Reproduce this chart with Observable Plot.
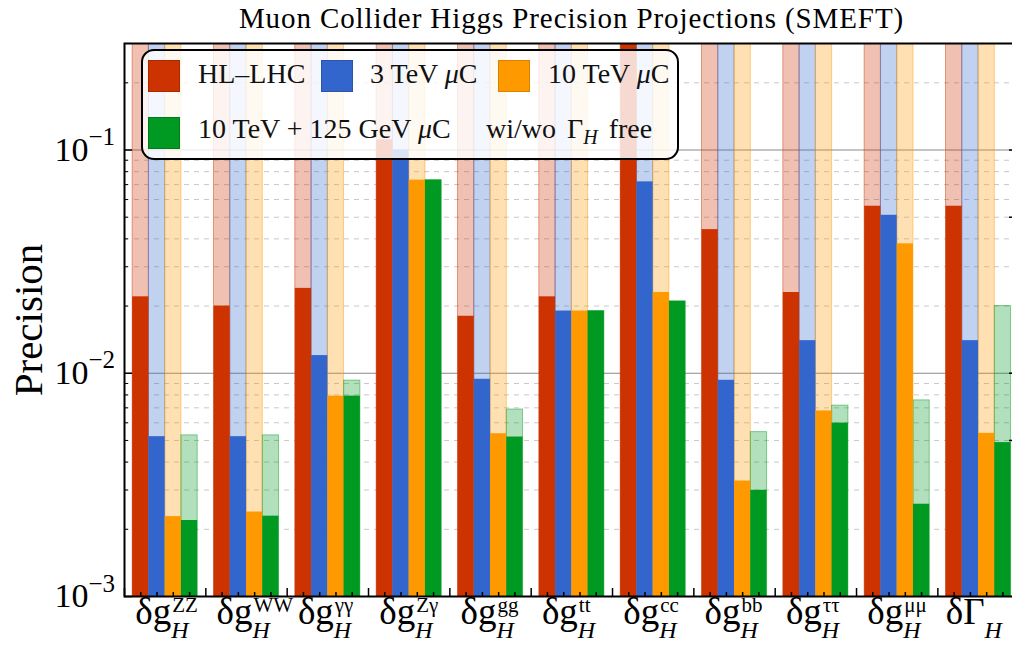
<!DOCTYPE html>
<html><head><meta charset="utf-8">
<script src="https://cdn.jsdelivr.net/npm/d3@7"></script>
<script src="https://cdn.jsdelivr.net/npm/@observablehq/plot@0.6"></script>
<style>
body{margin:0;background:#fff;font-family:"Liberation Serif",serif;}
#wrap{position:relative;width:1012px;height:653px;overflow:hidden;background:#fff;}
#title{position:absolute;left:124px;width:895px;top:0;height:36px;line-height:36px;text-align:center;font-size:29px;letter-spacing:0.9px;color:#000;}
#chart{position:absolute;top:36px;left:0;}
#legend{position:absolute;left:141px;top:49px;width:534px;height:107px;border:2px solid #000;border-radius:13px;background:rgba(255,255,255,0.82);}
.sw{position:absolute;width:30px;height:30px;border:1px solid;}
.lt{position:absolute;font-size:28px;line-height:28px;white-space:nowrap;color:#111;}
.lt sub{font-size:20px;vertical-align:-6px;line-height:0;}
</style></head><body>
<div id="wrap">
<div id="title">Muon Collider Higgs Precision Projections (SMEFT)</div>
<div id="chart"></div>
<div id="legend"></div>
</div>
<script>
// ---- data ----
const categories = ["ZZ","WW","γγ","Zγ","gg","tt","cc","bb","ττ","μμ","ΓH"];
const labelMain = ["δg","δg","δg","δg","δg","δg","δg","δg","δg","δg","δΓ"];
const labelSup  = ["ZZ","WW","γγ","Zγ","gg","tt","cc","bb","ττ","μμ",""];
const labelSub  = ["H","H","H","H","H","H","H","H","H","H","H"];
const seriesNames = ["HL–LHC","3 TeV μC","10 TeV μC","10 TeV + 125 GeV μC"];
// Γ_H fixed (solid bars)
const hlLHC  = [0.022, 0.020, 0.024, 0.111, 0.018, 0.022, 0.35, 0.044, 0.023, 0.056, 0.056];
const mu3    = [0.0052, 0.0052, 0.0120, 0.100, 0.0094, 0.019, 0.072, 0.0093, 0.0140, 0.051, 0.0140];
const mu10   = [0.00228, 0.00239, 0.0079, 0.0733, 0.00536, 0.019, 0.023, 0.00329, 0.00678, 0.038, 0.00538];
const mu10h  = [0.00219, 0.00229, 0.0079, 0.0733, 0.00518, 0.019, 0.021, 0.00299, 0.00598, 0.00259, 0.00489];
// Γ_H free (faded bars); 1 = beyond the top of the plot
const hlLHCfree = [1,1,1,1,1,1,1,1,1,1,1];
const mu3free   = [1,1,1,1,1,1,1,1,1,1,1];
const mu10free  = [1,1,1,1,1,1,1,1,1,1,1];
const mu10hfree = [0.00527, 0.00527, 0.00927, 0.0733, 0.00688, 0.019, 0.021, 0.00545, 0.00716, 0.00756, 0.0200];
const colors = ["#CC3300","#3366CC","#FF9900","#009922"];
const edgeColors = ["#A82A00","#2A55AA","#D98200","#007A1C"];
const yDecades = [0.001, 0.01, 0.1];
const yDecadeLabels = ["−3","−2","−1"];
const yMinor = [0.002,0.003,0.004,0.005,0.006,0.007,0.008,0.009,0.02,0.03,0.04,0.05,0.06,0.07,0.08,0.09,0.2,0.3];
const yRightTicks = [0.005, 0.01, 0.05, 0.1];
const yMajorGrid = [0.01, 0.1];

// ---- layout ----
const W = 1012, H = 617, mL = 124, mT = 7, mB = 57, mR = -1;
const xR = [124, 1018.7];
const bw = (xR[1]-xR[0]) / categories.length;
const frameW = W - mR - mL, frameH = H - mT - mB;

const solid = [hlLHC, mu3, mu10, mu10h];
const faded = [hlLHCfree, mu3free, mu10free, mu10hfree];
const marks = [];

// grid
marks.push(Plot.ruleY(yMinor, {stroke:"#c8c8c8", strokeWidth:1, strokeDasharray:"5,5"}));
marks.push(Plot.ruleY(yMajorGrid, {stroke:"#8a8a8a", strokeWidth:1}));

// faded bars (Γ_H free)
faded.forEach((vals, j) => {
  marks.push(Plot.barY(categories.map((c,i)=>({cat:c, v:vals[i]})), {
    x:"cat", y1:0.001, y2:"v", fill:colors[j], fillOpacity:0.3,
    stroke:colors[j], strokeOpacity:0.45, strokeWidth:1,
    insetLeft: bw*(0.1+0.2*j), insetRight: bw*(0.7-0.2*j), clip:true
  }));
});
// solid bars (Γ_H fixed)
solid.forEach((vals, j) => {
  marks.push(Plot.barY(categories.map((c,i)=>({cat:c, v:vals[i]})), {
    x:"cat", y1:0.001, y2:"v", fill:colors[j],
    insetLeft: bw*(0.1+0.2*j), insetRight: bw*(0.7-0.2*j), clip:true
  }));
});

// frame
marks.push(Plot.frame({stroke:"#000", strokeWidth:2}));
// x ticks: bar centres (minor) and group boundaries (major)
[-0.3,-0.1,0.1,0.3].forEach(o => marks.push(Plot.ruleX(categories, {x:d=>d, dx:bw*o, stroke:"#000", strokeWidth:1.5, insetTop:frameH-4})));
marks.push(Plot.ruleX(categories, {x:d=>d, dx:-bw/2, stroke:"#000", strokeWidth:1.5, insetTop:frameH-8}));
// y ticks
marks.push(Plot.ruleY(yDecades, {stroke:"#000", strokeWidth:1.5, insetRight:frameW-8}));
marks.push(Plot.ruleY(yMinor, {stroke:"#000", strokeWidth:1, insetRight:frameW-4}));
marks.push(Plot.ruleY(yRightTicks, {stroke:"#000", strokeWidth:1.5, insetLeft:frameW-4}));

// y tick labels
marks.push(Plot.text(yDecades, {y:d=>d, text:()=>"10", frameAnchor:"left", textAnchor:"end", dx:-36, fontSize:34}));
marks.push(Plot.text(yDecades, {y:d=>d, text:(d,i)=>yDecadeLabels[i], frameAnchor:"left", textAnchor:"start", dx:-36, dy:-13, fontSize:25}));
// y label
marks.push(Plot.text(["Precision"], {text:d=>d, frameAnchor:"left", textAnchor:"middle", dx:-96, rotate:-90, fontSize:41}));
// x labels
marks.push(Plot.text(categories, {x:d=>d, text:(d,i)=>labelMain[i], frameAnchor:"bottom", textAnchor:"end", dx:6, dy:27, fontSize:37}));
marks.push(Plot.text(categories, {x:d=>d, text:(d,i)=>labelSup[i], frameAnchor:"bottom", textAnchor:"start", dx:7, dy:15, fontSize:21}));
marks.push(Plot.text(categories, {x:d=>d, text:(d,i)=>labelSub[i], frameAnchor:"bottom", textAnchor:"start", dx:6, dy:41, fontSize:24, fontStyle:"italic"}));

const chart = Plot.plot({
  width:W, height:H, marginLeft:mL, marginRight:mR, marginTop:mT, marginBottom:mB,
  style:{fontFamily:"'Liberation Serif', serif", background:"transparent", color:"#000", overflow:"visible"},
  x:{type:"band", domain:categories, range:xR, padding:0, round:false, axis:null},
  y:{type:"log", domain:[0.001, 0.3], axis:null},
  marks
});
document.getElementById("chart").appendChild(chart);

// legend
const leg = document.getElementById("legend");
const swPos = [[5,9],[178,9],[355,9],[5,66]];
const txtPos = [[55,9],[227,9],[405,9],[55,64]];
const txtHtml = ["HL–LHC","3 TeV <i>μ</i>C","10 TeV <i>μ</i>C","10 TeV + 125 GeV <i>μ</i>C"];
seriesNames.forEach((n,j)=>{
  const s=document.createElement("span"); s.className="sw";
  s.style.left=swPos[j][0]+"px"; s.style.top=swPos[j][1]+"px";
  s.style.background=colors[j]; s.style.borderColor=edgeColors[j];
  leg.appendChild(s);
  const t=document.createElement("span"); t.className="lt";
  t.style.left=txtPos[j][0]+"px"; t.style.top=txtPos[j][1]+"px";
  t.innerHTML=txtHtml[j]; leg.appendChild(t);
});
const g=document.createElement("span"); g.className="lt";
g.style.left="343px"; g.style.top="64px"; g.style.wordSpacing="4px";
g.innerHTML="wi/wo Γ<sub><i>H</i></sub> free"; leg.appendChild(g);
</script>
</body></html>
